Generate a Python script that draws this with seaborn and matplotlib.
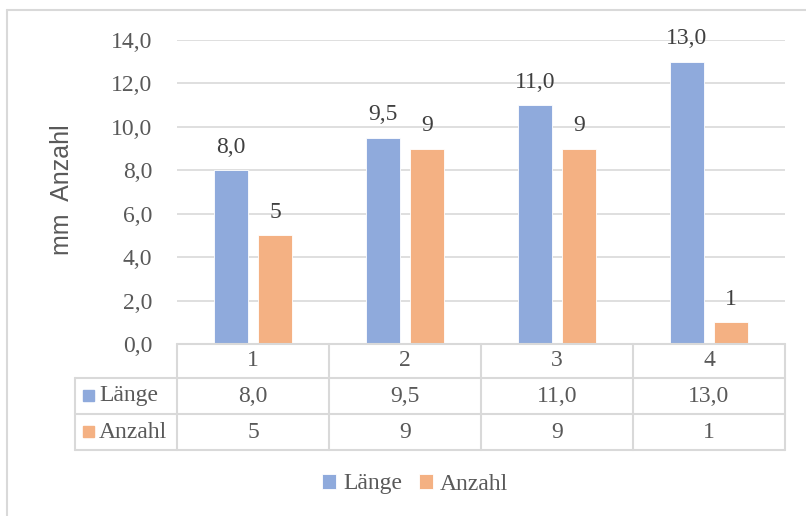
import matplotlib
matplotlib.use("Agg")
import matplotlib.pyplot as plt
from matplotlib.lines import Line2D
from matplotlib.patches import Rectangle
import matplotlib.transforms as mtransforms
import seaborn as sns
import pandas as pd

# data
categories = ["1", "2", "3", "4"]
laenge = [8.0, 9.5, 11.0, 13.0]
anzahl = [5, 9, 9, 1]
series = ["Länge", "Anzahl"]
colors = ["#8FAADC", "#F4B183"]

df = pd.DataFrame({
    "cat": categories * 2,
    "value": laenge + anzahl,
    "series": [series[0]] * 4 + [series[1]] * 4,
})

sns.set_theme(style="white")
plt.rcParams["font.family"] = ["Liberation Serif", "DejaVu Serif"]

W, H = 806, 516
FS = 17
fig = plt.figure(figsize=(W / 100, H / 100), dpi=100)
x0, x1, ytop, ybot = 177, 785, 40, 344
ax = fig.add_axes([x0 / W, 1 - ybot / H, (x1 - x0) / W, (ybot - ytop) / H])

sns.barplot(data=df, x="cat", y="value", hue="series", palette=colors,
            width=0.58, gap=0.23, ax=ax, legend=True, saturation=1,
            edgecolor="white", linewidth=0.6)

ax.set_ylim(0, 14)
ax.set_xlim(-0.5, 3.5)
ax.set_yticks(range(0, 15, 2))
ax.set_yticklabels([f"{v:.1f}".replace(".", ",") for v in range(0, 15, 2)],
                   fontsize=FS, color="#595959")
ax.tick_params(axis="y", length=0, pad=18)
ax.set_xticks([])
ax.set_xlabel("")
ax.set_ylabel("")
ax.grid(axis="y", color="#D9D9D9", linewidth=1.2)
ax.set_axisbelow(True)
for s in ax.spines.values():
    s.set_visible(False)

# data labels
for i, cont in enumerate(ax.containers):
    vals = laenge if i == 0 else anzahl
    fmt = [f"{v:.1f}".replace(".", ",") for v in vals] if i == 0 else [str(v) for v in vals]
    ax.bar_label(cont, labels=fmt, padding=9, fontsize=FS, color="#404040")

fig.text(62 / W, 1 - 190 / H, "mm  Anzahl", rotation=90, ha="center", va="center",
         fontsize=18, color="#595959", family=["Liberation Sans", "DejaVu Sans"])

# data table below the plot
gcol = "#D9D9D9"
row_y = [344, 378, 414, 450]
tleft = 75
bounds = [-0.5, 0.5, 1.5, 2.5, 3.5]
trans = mtransforms.blended_transform_factory(ax.transData, fig.transFigure)


def fy(py):
    return 1 - py / H


# horizontal lines
fig.add_artist(Line2D([x0 / W, x1 / W], [fy(344)] * 2, color=gcol, lw=1.5))
for py in row_y[1:]:
    fig.add_artist(Line2D([tleft / W, x1 / W], [fy(py)] * 2, color=gcol, lw=1.5))
# vertical lines
for b in bounds:
    fig.add_artist(Line2D([b, b], [fy(344), fy(450)], color=gcol, lw=1.5, transform=trans))
fig.add_artist(Line2D([tleft / W] * 2, [fy(378), fy(450)], color=gcol, lw=1.5))

for j, c in enumerate(categories):
    fig.text(j, fy(361), c, transform=trans, ha="center", va="center",
             fontsize=FS, color="#595959")
    fig.text(j, fy(396), f"{laenge[j]:.1f}".replace(".", ","), transform=trans,
             ha="center", va="center", fontsize=FS, color="#595959")
    fig.text(j, fy(432), str(anzahl[j]), transform=trans, ha="center",
             va="center", fontsize=FS, color="#595959")

for k, (name, col) in enumerate(zip(series, colors)):
    cy = 396 if k == 0 else 432
    fig.add_artist(Rectangle((83 / W, fy(cy + 5)), 11 / W, 11 / H, color=col,
                             transform=fig.transFigure))
    fig.text(99 / W, fy(cy), name, ha="left", va="center", fontsize=FS, color="#595959")

# legend at the bottom
handles, labels = ax.get_legend_handles_labels()
ax.get_legend().remove()
fig.legend(handles, labels, loc="center", bbox_to_anchor=(415 / W, fy(484)), ncol=2,
           frameon=False, fontsize=FS, labelcolor="#595959", handlelength=0.6,
           handleheight=0.6, handletextpad=0.3, columnspacing=0.7)

# outer chart border
fig.add_artist(Line2D([7 / W, 1], [fy(10)] * 2, color=gcol, lw=1.5))
fig.add_artist(Line2D([7 / W] * 2, [fy(10), 0], color=gcol, lw=1.5))

fig.savefig("out.png", dpi=100, facecolor="white")
